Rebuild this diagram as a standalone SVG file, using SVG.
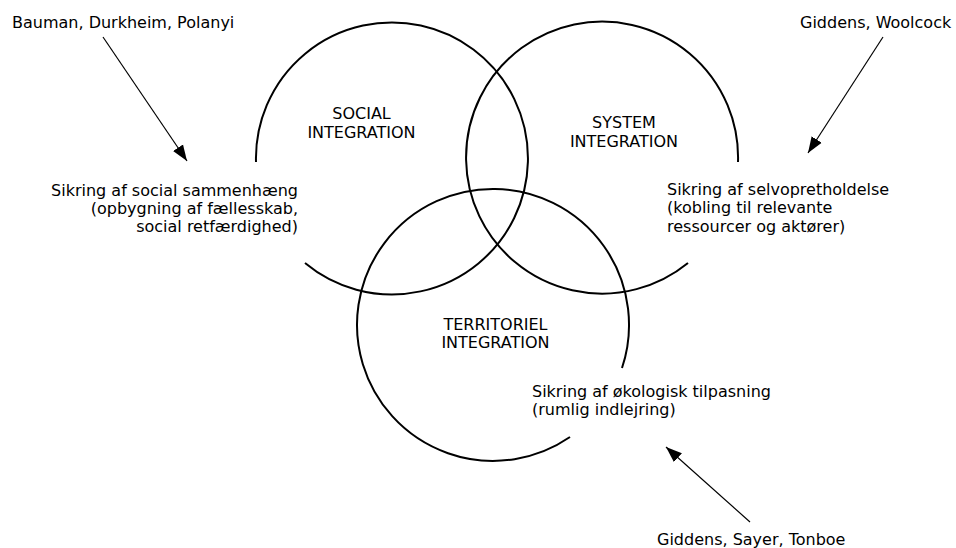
<svg xmlns="http://www.w3.org/2000/svg" width="956" height="548" viewBox="0 0 956 548">
<style>
text{font-family:"DejaVu Sans","Liberation Sans",sans-serif;font-size:16px;fill:#000}
.circ{fill:none;stroke:#000;stroke-width:2}
.arr{fill:none;stroke:#000;stroke-width:1.2}
.mid{text-anchor:middle}
.end{text-anchor:end}
</style>
<defs>
<marker id="ah" markerUnits="userSpaceOnUse" markerWidth="17" markerHeight="13" refX="16" refY="6.5" orient="auto">
<path d="M0,0.5 L16,6.5 L0,12.5 z" fill="#000"/>
</marker>
</defs>
<rect width="956" height="548" fill="#fff"/>
<g id="social">
<path class="circ" d="M256,162 A136,136 0 1 1 305,263"/>
<text class="mid" x="361.5" y="119">SOCIAL</text>
<text class="mid" x="361.5" y="138">INTEGRATION</text>
<text class="end" x="298" y="196">Sikring af social sammenhæng</text>
<text class="end" x="298" y="214">(opbygning af fællesskab,</text>
<text class="end" x="298" y="232">social retfærdighed)</text>
</g>
<g id="system">
<path class="circ" d="M688,263 A136,136 0 1 1 738,162"/>
<text class="mid" x="624" y="128">SYSTEM</text>
<text class="mid" x="624" y="147">INTEGRATION</text>
<text x="667" y="195">Sikring af selvopretholdelse</text>
<text x="667" y="213">(kobling til relevante</text>
<text x="667" y="232">ressourcer og aktører)</text>
</g>
<g id="territoriel">
<path class="circ" d="M570,437 A136,136 0 1 1 622,368"/>
<text class="mid" x="495.5" y="330">TERRITORIEL</text>
<text class="mid" x="495.5" y="348">INTEGRATION</text>
<text x="532" y="397">Sikring af økologisk tilpasning</text>
<text x="532" y="415">(rumlig indlejring)</text>
</g>
<g id="src-bauman">
<text x="12" y="28">Bauman, Durkheim, Polanyi</text>
</g>
<g id="src-giddens-woolcock">
<text x="800" y="28">Giddens, Woolcock</text>
</g>
<g id="src-giddens-sayer">
<text x="657" y="545">Giddens, Sayer, Tonboe</text>
</g>
<g id="connectors">
<line class="arr" x1="103" y1="37" x2="187" y2="161" marker-end="url(#ah)"/>
<line class="arr" x1="883" y1="37" x2="808" y2="153" marker-end="url(#ah)"/>
<line class="arr" x1="750" y1="522" x2="666" y2="447" marker-end="url(#ah)"/>
</g>
</svg>
